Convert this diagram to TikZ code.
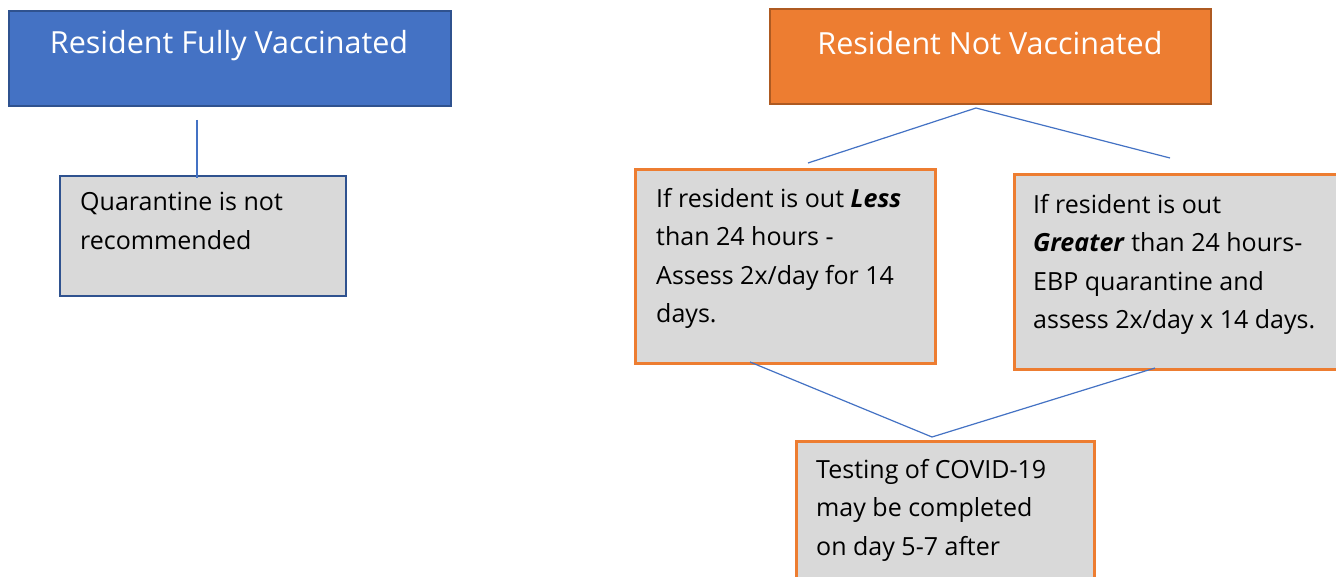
\documentclass[tikz,border=0pt]{standalone}
\usepackage{fontspec}
\setmainfont{Open Sans}
\usetikzlibrary{calc}
\definecolor{bluefill}{HTML}{4472C4}
\definecolor{blueedge}{HTML}{2F528F}
\definecolor{orfill}{HTML}{ED7D31}
\definecolor{oredge}{HTML}{AE5A21}
\definecolor{grayfill}{HTML}{D9D9D9}
\tikzset{
  headbox/.style={draw, line width=2pt, anchor=north west, inner sep=0pt},
  graybox/.style={draw, fill=grayfill, anchor=north west, inner sep=0pt},
  bodytext/.style={anchor=north west, align=left, inner sep=0pt, font=\fontsize{25}{38.5}\selectfont},
  headtext/.style={text=white, inner sep=0pt, font=\fontsize{30.5}{36}\selectfont},
  conn/.style={draw=bluefill, line width=1.2pt},
}
\begin{document}
\begin{tikzpicture}[x=1pt,y=-1pt]
\clip (0,0) rectangle (1336,577);
\fill[white] (0,0) rectangle (1336,577);
% left column
\node[headbox, fill=bluefill, draw=blueedge, minimum width=442pt, minimum height=95pt] (fv) at (8,10) {};
\node[headtext] (fvt) at (229,46) {Resident Fully Vaccinated};
\node[graybox, draw=blueedge, line width=2pt, minimum width=286pt, minimum height=120pt] (q) at (59,175) {};
\node[bodytext] (qt) at (80,192) {Quarantine is not\\recommended};
\coordinate (fvdown) at (197,120);
\coordinate (qup) at (197,178);
\draw[conn] (fvdown) -- (qup);
% right column
\node[headbox, fill=orfill, draw=oredge, minimum width=441pt, minimum height=95pt] (nv) at (769,8) {};
\node[headtext] (nvt) at (990,43) {Resident Not Vaccinated};
\node[graybox, draw=orfill, line width=3pt, minimum width=300pt, minimum height=194pt] (less) at (634,168) {};
\node[bodytext] (lesst) at (656,188) {If resident is out \textbf{\textit{Less}}\\than 24 hours -\\Assess 2x/day for 14\\days.};
\node[graybox, draw=orfill, line width=3pt, minimum width=334pt, minimum height=195pt] (gr) at (1013,173) {};
\node[bodytext] (grt) at (1033,194) {If resident is out\\\textbf{\textit{Greater}} than 24 hours-\\EBP quarantine and\\assess 2x/day x 14 days.};
\node[graybox, draw=orfill, line width=3pt, minimum width=298pt, minimum height=160pt] (test) at (795,440) {};
\node[bodytext] (testt) at (816,459) {Testing of COVID-19\\may be completed\\on day 5-7 after};
\coordinate (split) at (976,108);
\coordinate (lessup) at (808,163);
\coordinate (grup) at (1170,158);
\coordinate (lessdown) at (750,362);
\coordinate (grdown) at (1155,368);
\coordinate (testup) at (932,437);
\draw[conn] (lessup) -- (split) -- (grup);
\draw[conn] (lessdown) -- (testup) -- (grdown);
\end{tikzpicture}
\end{document}
